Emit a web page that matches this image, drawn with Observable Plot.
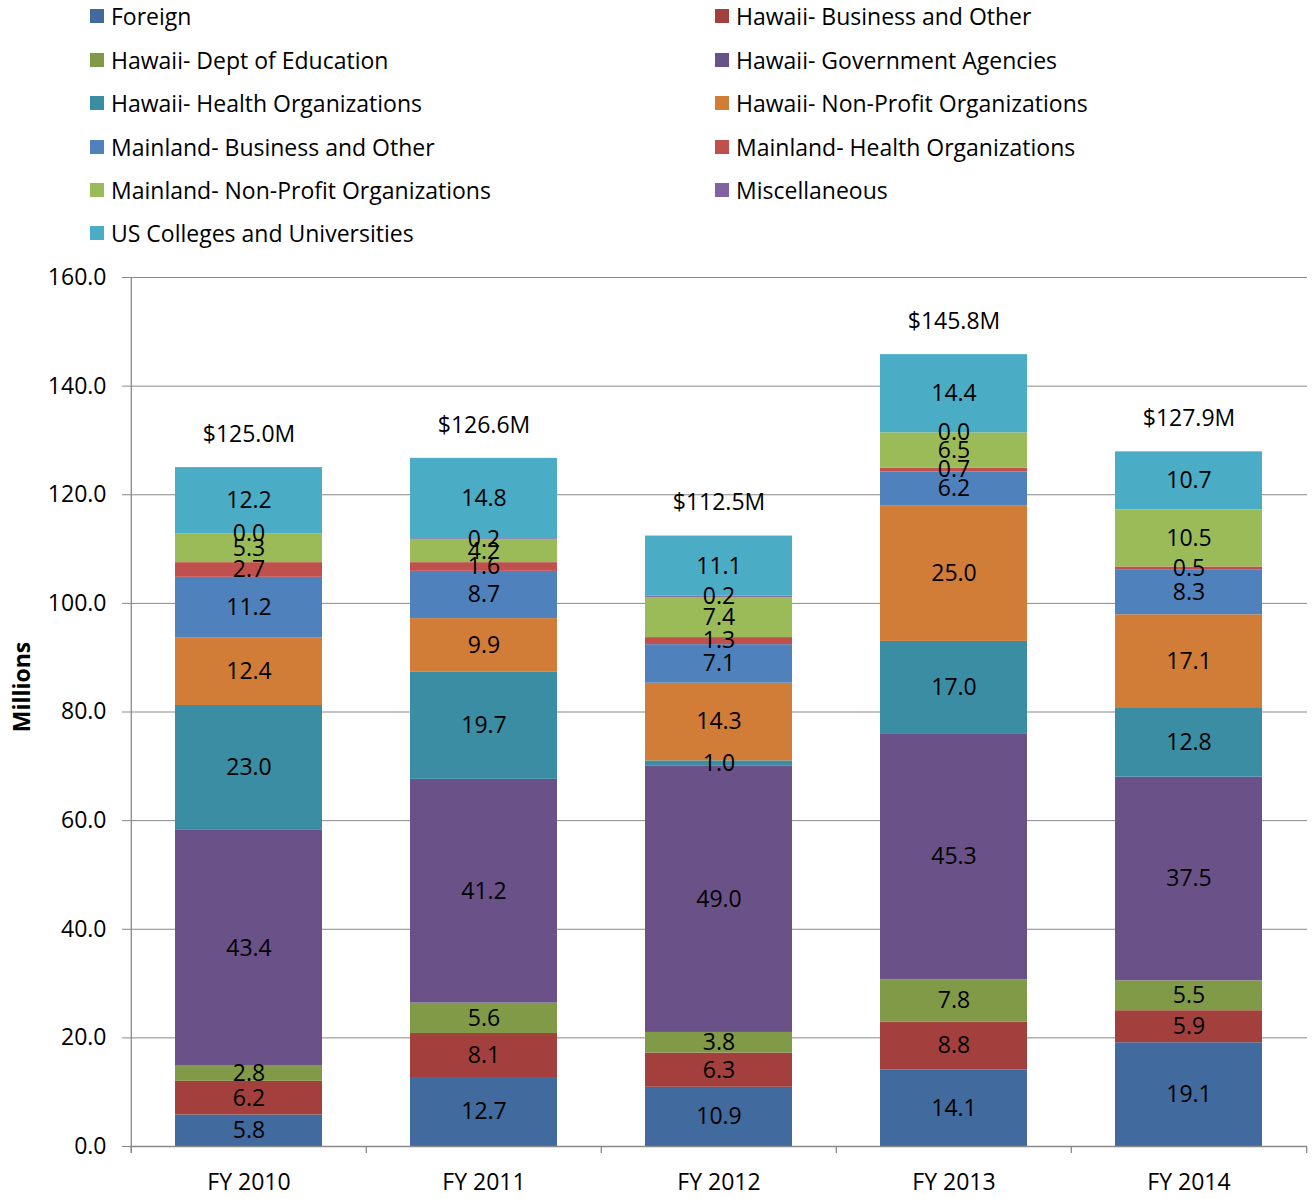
<!DOCTYPE html>
<html>
<head>
<meta charset="utf-8">
<script src="https://cdn.jsdelivr.net/npm/d3@7"></script>
<script src="https://cdn.jsdelivr.net/npm/@observablehq/plot@0.6"></script>
<style>
  body { margin: 0; background: #fff; font-family: "Open Sans", sans-serif; }
  #wrap { width: 1315px; height: 1199px; position: relative; overflow: hidden; }
  #legend { position: relative; height: 255px; }
  .item { position: absolute; display: flex; align-items: center; font-size: 23px; color: #000; white-space: nowrap; }
  .sw { width: 14px; height: 14px; margin-right: 7px; }
  #chart svg { display: block; }
  svg text { font-family: "Open Sans", sans-serif; }
</style>
</head>
<body>
<div id="wrap">
  <div id="legend"></div>
  <div id="chart"></div>
</div>
<script>
const years = ["FY 2010", "FY 2011", "FY 2012", "FY 2013", "FY 2014"];
const series = [
  "Foreign",
  "Hawaii- Business and Other",
  "Hawaii- Dept of Education",
  "Hawaii- Government Agencies",
  "Hawaii- Health Organizations",
  "Hawaii- Non-Profit Organizations",
  "Mainland- Business and Other",
  "Mainland- Health Organizations",
  "Mainland- Non-Profit Organizations",
  "Miscellaneous",
  "US Colleges and Universities"
];
const colors = ["#416A9E", "#A3403D", "#809A48", "#6A5188", "#3A8DA3", "#D17D38", "#4F81BD", "#C0504D", "#9BBB59", "#8064A2", "#4BACC6"];

// values per series, by year
const foreign        = [5.8, 12.7, 10.9, 14.1, 19.1];
const hiBusiness     = [6.2, 8.1, 6.3, 8.8, 5.9];
const hiEducation    = [2.8, 5.6, 3.8, 7.8, 5.5];
const hiGovernment   = [43.4, 41.2, 49.0, 45.3, 37.5];
const hiHealth       = [23.0, 19.7, 1.0, 17.0, 12.8];
const hiNonProfit    = [12.4, 9.9, 14.3, 25.0, 17.1];
const mlBusiness     = [11.2, 8.7, 7.1, 6.2, 8.3];
const mlHealth       = [2.7, 1.6, 1.3, 0.7, 0.5];
const mlNonProfit    = [5.3, 4.2, 7.4, 6.5, 10.5];
const miscellaneous  = [0.0, 0.2, 0.2, 0.0, null];
const usColleges     = [12.2, 14.8, 11.1, 14.4, 10.7];
const totals         = [125.0, 126.6, 112.5, 145.8, 127.9];
const yTicks = [0, 20, 40, 60, 80, 100, 120, 140, 160];

const seriesValues = [foreign, hiBusiness, hiEducation, hiGovernment, hiHealth, hiNonProfit,
  mlBusiness, mlHealth, mlNonProfit, miscellaneous, usColleges];

const data = [];
series.forEach((s, i) => {
  years.forEach((y, j) => {
    const v = seriesValues[i][j];
    if (v != null) data.push({year: y, series: s, value: v});
  });
});
const totalData = years.map((y, j) => ({year: y, total: totals[j]}));

// legend
const legend = document.getElementById("legend");
const rowsY = [16, 60, 103, 147, 190, 233];
series.forEach((s, i) => {
  const col = i % 2, row = Math.floor(i / 2);
  const el = document.createElement("div");
  el.className = "item";
  el.style.left = (col === 0 ? 90 : 715) + "px";
  el.style.top = (rowsY[row] - 16) + "px";
  el.style.height = "32px";
  el.innerHTML = `<span class="sw" style="background:${colors[i]}"></span><span>${s}</span>`;
  legend.appendChild(el);
});

const W = 1315, H = 944, ML = 130, MR = 8, MT = 22, MB = 53;
const step = (W - ML - MR) / years.length;
const axisGray = "#898989";
const FS = 23;

const plot = Plot.plot({
  width: W,
  height: H,
  marginLeft: ML,
  marginRight: MR,
  marginTop: MT,
  marginBottom: MB,
  style: {fontFamily: "'Open Sans', sans-serif", fontSize: FS + "px", color: "#000", background: "#fff"},
  x: {domain: years, paddingInner: 0.375, paddingOuter: 0.1875, label: null},
  y: {domain: [0, 160], label: null},
  color: {domain: series, range: colors},
  marks: [
    Plot.gridY(yTicks, {stroke: axisGray, strokeOpacity: 1, strokeWidth: 1}),
    Plot.barY(data, {x: "year", y: "value", fill: "series", z: "series", order: null}),
    Plot.text(data, Plot.stackY({x: "year", y: "value", z: "series", order: null,
      text: d => d.value.toFixed(1), fill: "#000", fontSize: FS})),
    Plot.text(totalData, {x: "year", y: "total", text: d => "$" + d.total.toFixed(1) + "M",
      dy: -33, fill: "#000", fontSize: FS}),
    Plot.ruleY([0], {stroke: axisGray, strokeWidth: 1.3}),
    // vertical y axis line at left edge
    Plot.ruleX([years[0]], {y1: 160, y2: 0, dx: -step / 2, stroke: axisGray, strokeWidth: 1.3, insetBottom: -7}),
    // category boundary ticks
    Plot.ruleX(years, {y1: 0, y2: 0, dx: -step / 2, insetBottom: -7, stroke: axisGray, strokeWidth: 1.3}),
    Plot.ruleX([years[years.length - 1]], {y1: 0, y2: 0, dx: step / 2, insetBottom: -7, stroke: axisGray, strokeWidth: 1.3}),
    Plot.axisY(yTicks, {tickSize: 8, tickPadding: 16, stroke: axisGray, tickFormat: d => d.toFixed(1), fontSize: FS, label: null}),
    Plot.axisX({tickSize: 0, tickPadding: 27, fontSize: FS, label: null}),
    Plot.text(["Millions"], {frameAnchor: "left", textAnchor: "middle", rotate: -90, dx: -108, dy: -25, fontWeight: "bold", fontSize: FS, fill: "#000"})
  ]
});
document.getElementById("chart").appendChild(plot);
</script>
</body>
</html>
